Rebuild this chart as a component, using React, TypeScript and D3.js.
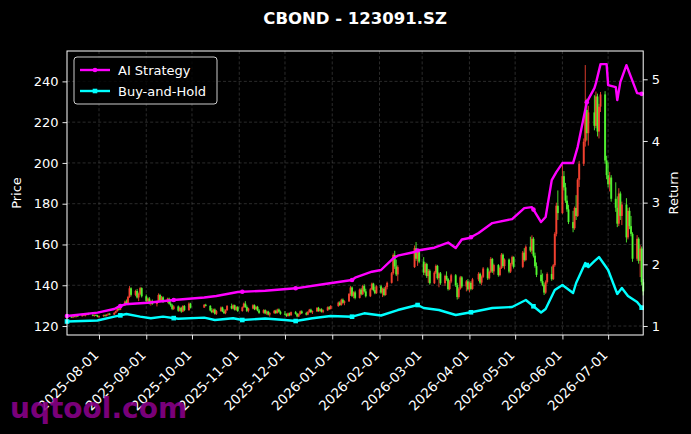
import { useEffect, useRef } from 'react';
import * as d3 from 'd3';

// [day of month, open, high, low, close]
type Candle = [number, number, number, number, number];

const jul2025: Candle[] = [
  [11, 124.0, 124.8, 123.6, 124.5], [14, 124.5, 125.0, 124.1, 124.3], [15, 124.3, 124.9, 123.9, 124.7],
  [16, 124.7, 125.3, 124.4, 124.6], [17, 124.6, 125.2, 124.2, 125.0], [18, 125.0, 125.6, 124.6, 124.8],
  [21, 124.8, 125.9, 124.6, 125.6], [22, 125.6, 126.0, 125.0, 125.2], [23, 125.2, 125.8, 124.7, 125.5],
  [24, 125.5, 126.4, 125.2, 126.1], [25, 126.1, 126.5, 125.3, 125.5], [28, 125.5, 125.9, 124.8, 125.0],
  [29, 125.0, 125.7, 124.6, 125.4], [30, 125.4, 125.8, 124.9, 125.1], [31, 125.1, 125.5, 124.3, 124.6],
];
const aug2025: Candle[] = [
  [1, 124.6, 125.2, 124.0, 124.9], [4, 124.9, 125.6, 124.5, 125.3], [5, 125.3, 125.7, 124.6, 124.9],
  [6, 124.9, 125.8, 124.7, 125.6], [7, 125.6, 126.3, 125.2, 126.0], [8, 126.0, 126.4, 125.3, 125.6],
  [11, 125.6, 126.8, 125.4, 126.5], [12, 126.5, 127.6, 126.2, 127.3], [13, 127.3, 128.9, 127.0, 128.5],
  [14, 128.5, 129.4, 127.6, 128.0], [15, 128.0, 130.6, 127.8, 130.2], [18, 130.2, 132.5, 129.8, 132.0],
  [19, 132.0, 133.0, 130.4, 130.9], [20, 130.9, 134.8, 130.5, 134.2], [21, 134.2, 139.6, 133.8, 138.5],
  [22, 138.5, 139.0, 134.5, 135.3], [25, 135.3, 137.8, 134.6, 137.2], [26, 137.2, 138.2, 133.5, 134.0],
  [27, 134.0, 136.4, 132.2, 135.8], [28, 135.8, 139.2, 135.2, 138.6], [29, 138.6, 139.0, 134.0, 134.6],
];
const sep2025: Candle[] = [
  [1, 134.6, 135.5, 131.5, 132.2], [2, 132.2, 134.0, 131.0, 133.5], [3, 133.5, 134.2, 130.6, 131.0],
  [4, 131.0, 132.8, 130.0, 132.3], [5, 132.3, 133.0, 130.4, 130.8], [8, 130.8, 132.4, 129.6, 131.9],
  [9, 131.9, 136.0, 131.5, 135.2], [10, 135.2, 135.8, 132.0, 132.6], [11, 132.6, 134.8, 132.0, 134.1],
  [12, 134.1, 134.6, 131.3, 131.8], [15, 131.8, 133.9, 131.2, 133.4], [16, 133.4, 133.9, 130.6, 131.0],
  [17, 131.0, 132.6, 129.5, 130.2], [18, 130.2, 130.9, 127.8, 128.4], [19, 128.4, 130.2, 127.9, 129.6],
  [22, 129.6, 130.1, 127.0, 127.5], [23, 127.5, 129.5, 127.1, 128.9], [24, 128.9, 129.4, 126.5, 127.1],
  [25, 127.1, 130.2, 126.8, 129.8], [26, 129.8, 130.3, 127.3, 127.8], [29, 127.8, 131.6, 127.5, 131.0],
  [30, 131.0, 131.4, 128.6, 129.0],
];
const oct2025: Candle[] = [
  [9, 129.0, 130.8, 129.0, 130.4], [10, 130.4, 130.9, 129.6, 129.9], [13, 129.9, 130.2, 127.2, 127.6],
  [14, 127.6, 128.8, 126.3, 126.8], [15, 126.8, 128.5, 126.4, 128.1], [16, 128.1, 128.6, 125.6, 126.0],
  [17, 126.0, 127.9, 125.4, 127.3], [20, 127.3, 129.6, 127.0, 129.1], [21, 129.1, 129.5, 126.8, 127.2],
  [22, 127.2, 128.3, 125.9, 126.3], [23, 126.3, 128.2, 125.8, 127.8], [24, 127.8, 130.3, 127.4, 129.8],
  [27, 129.8, 131.0, 128.2, 128.6], [28, 128.6, 130.6, 128.2, 130.2], [29, 130.2, 130.5, 127.6, 128.0],
  [30, 128.0, 129.7, 127.5, 129.3], [31, 129.3, 129.8, 126.9, 127.4],
];
const nov2025: Candle[] = [
  [3, 127.4, 129.6, 127.0, 129.2], [4, 129.2, 131.5, 128.8, 131.0], [5, 131.0, 132.2, 128.9, 129.3],
  [6, 129.3, 130.1, 126.9, 127.5], [7, 127.5, 129.0, 126.7, 128.6], [10, 128.6, 130.7, 128.2, 130.2],
  [11, 130.2, 130.6, 127.8, 128.3], [12, 128.3, 129.8, 127.8, 129.4], [13, 129.4, 129.9, 127.2, 127.6],
  [14, 127.6, 128.3, 126.0, 126.5], [17, 126.5, 128.2, 126.1, 127.8], [18, 127.8, 128.2, 125.8, 126.2],
  [19, 126.2, 127.6, 125.5, 127.1], [20, 127.1, 127.5, 125.2, 125.6], [21, 125.6, 126.8, 124.6, 126.3],
  [24, 126.3, 127.9, 126.0, 127.5], [25, 127.5, 128.0, 125.9, 126.4], [26, 126.4, 128.5, 126.1, 128.1],
  [27, 128.1, 128.6, 126.6, 127.0], [28, 127.0, 127.6, 125.5, 126.0],
];
const dec2025: Candle[] = [
  [1, 126.0, 127.3, 125.2, 125.6], [2, 125.6, 126.2, 124.5, 124.9], [3, 124.9, 126.6, 124.6, 126.2],
  [4, 126.2, 126.6, 124.8, 125.3], [5, 125.3, 127.1, 125.0, 126.8], [8, 126.8, 127.4, 125.6, 126.0],
  [9, 126.0, 126.4, 124.3, 124.7], [10, 124.7, 126.2, 124.4, 125.8], [11, 125.8, 127.6, 125.5, 127.2],
  [12, 127.2, 127.7, 125.9, 126.3], [15, 126.3, 127.0, 125.2, 125.6], [16, 125.6, 127.3, 125.3, 126.9],
  [17, 126.9, 128.4, 126.5, 128.0], [18, 128.0, 128.5, 126.4, 126.8], [19, 126.8, 127.6, 125.9, 127.2],
  [22, 127.2, 129.3, 126.9, 128.9], [23, 128.9, 129.4, 127.0, 127.4], [24, 127.4, 128.6, 126.8, 128.2],
  [25, 128.2, 128.7, 126.6, 127.0], [26, 127.0, 128.1, 126.3, 127.7], [29, 127.7, 129.6, 127.4, 129.2],
  [30, 129.2, 129.8, 127.9, 128.4], [31, 128.4, 130.3, 128.1, 129.8],
];
const jan2026: Candle[] = [
  [5, 129.8, 132.0, 129.4, 131.5], [6, 131.5, 132.2, 129.8, 130.3], [7, 130.3, 133.4, 130.0, 132.9],
  [8, 132.9, 133.5, 130.9, 131.4], [9, 131.4, 132.6, 130.2, 132.1], [12, 132.1, 136.2, 131.8, 135.7],
  [13, 135.7, 139.6, 134.8, 138.9], [14, 138.9, 139.4, 134.2, 134.8], [15, 134.8, 137.0, 133.6, 136.5],
  [16, 136.5, 137.3, 133.1, 133.8], [19, 133.8, 138.4, 133.5, 137.9], [20, 137.9, 138.6, 135.0, 135.6],
  [21, 135.6, 140.2, 135.2, 139.6], [22, 139.6, 140.5, 136.4, 137.0], [23, 137.0, 138.3, 134.0, 134.6],
  [26, 134.6, 138.6, 134.2, 138.0], [27, 138.0, 141.3, 137.6, 140.8], [28, 140.8, 141.2, 137.0, 137.6],
  [29, 137.6, 139.4, 135.6, 136.1], [30, 136.1, 140.0, 135.8, 139.5],
];
const feb2026: Candle[] = [
  [2, 139.5, 140.2, 135.8, 136.4], [3, 136.4, 138.8, 134.2, 138.3], [4, 138.3, 139.0, 134.6, 135.2],
  [5, 135.2, 139.6, 134.9, 139.1], [6, 139.1, 141.8, 138.0, 141.2], [9, 141.2, 146.5, 140.8, 145.9],
  [10, 145.9, 155.6, 145.2, 154.8], [11, 154.8, 156.9, 148.0, 149.2], [12, 149.2, 152.6, 144.5, 145.3],
  [13, 145.3, 149.8, 142.0, 148.9], [24, 148.9, 159.5, 148.5, 158.2], [25, 158.2, 161.2, 152.0, 153.0],
  [26, 153.0, 157.4, 149.5, 156.5], [27, 156.5, 157.2, 150.8, 151.6],
];
const mar2026: Candle[] = [
  [2, 151.6, 153.8, 145.0, 146.2], [3, 146.2, 151.2, 144.8, 150.4], [4, 150.4, 151.0, 143.6, 144.5],
  [5, 144.5, 148.0, 141.2, 147.1], [6, 147.1, 147.8, 140.3, 141.0], [9, 141.0, 146.9, 140.6, 146.2],
  [10, 146.2, 150.2, 145.5, 149.5], [11, 149.5, 150.0, 142.8, 143.5], [12, 143.5, 146.4, 139.0, 145.8],
  [13, 145.8, 146.5, 140.2, 141.0], [16, 141.0, 145.2, 139.6, 144.6], [17, 144.6, 146.8, 142.2, 143.0],
  [18, 143.0, 143.6, 137.4, 138.1], [19, 138.1, 142.5, 137.6, 141.8], [20, 141.8, 145.6, 141.0, 144.9],
  [23, 144.9, 145.5, 139.2, 140.0], [24, 140.0, 141.2, 133.0, 134.2], [25, 134.2, 139.0, 133.4, 138.3],
  [26, 138.3, 144.6, 137.8, 143.9], [27, 143.9, 144.5, 138.6, 139.4], [30, 139.4, 142.6, 137.0, 141.9],
  [31, 141.9, 143.0, 137.4, 138.0],
];
const apr2026: Candle[] = [
  [1, 138.0, 141.8, 136.6, 141.2], [2, 141.2, 142.0, 137.5, 138.2], [3, 138.2, 143.6, 137.8, 142.9],
  [7, 142.9, 146.4, 142.0, 145.6], [8, 145.6, 146.2, 140.6, 141.3], [9, 141.3, 144.8, 140.0, 144.1],
  [10, 144.1, 148.9, 143.5, 148.2], [13, 148.2, 148.8, 142.6, 143.4], [14, 143.4, 147.2, 142.8, 146.6],
  [15, 146.6, 153.8, 146.0, 152.9], [16, 152.9, 153.4, 146.0, 146.8], [17, 146.8, 150.6, 145.2, 149.9],
  [20, 149.9, 150.4, 144.2, 145.0], [21, 145.0, 149.2, 144.4, 148.5], [22, 148.5, 155.8, 148.0, 155.0],
  [23, 155.0, 155.6, 148.6, 149.4], [24, 149.4, 153.2, 147.8, 152.6], [27, 152.6, 153.1, 145.9, 146.7],
  [28, 146.7, 151.0, 146.0, 150.3], [29, 150.3, 154.5, 149.6, 153.8], [30, 153.8, 154.2, 148.2, 149.0],
];
const may2026: Candle[] = [
  [6, 149.0, 156.8, 148.4, 156.0], [7, 156.0, 158.2, 151.6, 152.4], [8, 152.4, 159.6, 151.8, 158.9],
  [11, 158.9, 163.8, 156.2, 157.0], [12, 157.0, 164.5, 155.4, 162.8], [13, 162.8, 163.6, 153.6, 154.5],
  [14, 154.5, 156.0, 148.6, 149.4], [15, 149.4, 151.2, 144.0, 145.1], [18, 145.1, 147.6, 141.2, 142.0],
  [19, 142.0, 145.8, 139.5, 140.2], [20, 140.2, 141.0, 135.2, 136.4], [21, 136.4, 142.4, 135.8, 141.6],
  [22, 141.6, 146.3, 140.8, 145.5], [25, 145.5, 149.2, 142.2, 143.0], [26, 143.0, 150.4, 142.6, 149.8],
  [27, 149.8, 166.0, 149.0, 165.2], [28, 165.2, 180.5, 164.0, 179.0], [29, 179.0, 186.5, 172.0, 175.4],
];
const jun2026: Candle[] = [
  [1, 175.4, 199.0, 175.0, 193.5], [2, 193.5, 196.0, 186.5, 188.0], [3, 188.0, 190.2, 180.4, 181.5],
  [4, 181.5, 184.0, 176.0, 177.2], [5, 177.2, 179.5, 170.0, 171.0], [8, 171.0, 176.5, 166.0, 168.0],
  [9, 168.0, 178.6, 167.2, 177.9], [10, 177.9, 184.2, 172.0, 174.0], [11, 174.0, 192.5, 173.5, 191.8],
  [12, 191.8, 201.0, 188.2, 199.6], [15, 199.6, 212.0, 198.5, 210.4], [16, 210.4, 248.0, 208.0, 226.0],
  [17, 226.0, 231.5, 211.0, 214.6], [18, 214.6, 228.0, 208.5, 224.8], [22, 224.8, 233.2, 216.0, 218.2],
  [23, 218.2, 235.0, 217.0, 232.6], [24, 232.6, 234.0, 213.0, 215.4], [25, 215.4, 229.0, 212.0, 227.6],
  [26, 227.6, 234.8, 225.0, 233.6], [29, 233.6, 235.2, 199.6, 201.2], [30, 201.2, 203.5, 192.0, 194.0],
];
const jul2026: Candle[] = [
  [1, 194.0, 200.2, 188.0, 189.5], [2, 189.5, 195.6, 186.0, 192.8], [3, 192.8, 194.0, 181.0, 182.4],
  [6, 182.4, 190.5, 176.0, 178.0], [7, 178.0, 183.6, 168.5, 170.2], [8, 170.2, 187.6, 169.0, 185.0],
  [9, 185.0, 186.0, 172.0, 174.0], [10, 174.0, 181.0, 169.5, 179.6], [13, 179.6, 182.7, 161.0, 163.5],
  [14, 163.5, 178.0, 162.5, 176.5], [15, 176.5, 178.2, 167.5, 169.0], [16, 169.0, 174.0, 164.0, 165.2],
  [17, 165.2, 166.0, 151.5, 153.0], [20, 153.0, 164.6, 152.0, 162.8], [21, 162.8, 163.5, 150.6, 152.0],
  [22, 152.0, 159.7, 144.0, 158.0], [23, 158.0, 159.0, 140.0, 141.5], [24, 141.5, 143.0, 135.0, 137.0],
];

const candleMonths: [string, Candle[]][] = [
  ['2025-07', jul2025], ['2025-08', aug2025], ['2025-09', sep2025], ['2025-10', oct2025],
  ['2025-11', nov2025], ['2025-12', dec2025], ['2026-01', jan2026], ['2026-02', feb2026],
  ['2026-03', mar2026], ['2026-04', apr2026], ['2026-05', may2026], ['2026-06', jun2026],
  ['2026-07', jul2026],
];

const aiDates = [
  '2025-07-11', '2025-07-31', '2025-08-11', '2025-08-14', '2025-08-18', '2025-09-02', '2025-09-19',
  '2025-10-09', '2025-10-17', '2025-10-31', '2025-11-18', '2025-12-08', '2025-12-26', '2026-01-14',
  '2026-01-16', '2026-01-27', '2026-02-02', '2026-02-10', '2026-02-13', '2026-02-24', '2026-02-26',
  '2026-03-09', '2026-03-18', '2026-03-23', '2026-03-27', '2026-04-01', '2026-04-07', '2026-04-16',
  '2026-04-29', '2026-05-07', '2026-05-12', '2026-05-18', '2026-05-21', '2026-05-25', '2026-05-28',
  '2026-06-01', '2026-06-08', '2026-06-11', '2026-06-17', '2026-06-22', '2026-06-23', '2026-06-26',
  '2026-06-30', '2026-07-01', '2026-07-06', '2026-07-07', '2026-07-09', '2026-07-13', '2026-07-16',
  '2026-07-20', '2026-07-24',
];
const aiValues = [
  1.162, 1.216, 1.276, 1.313, 1.352, 1.378, 1.421,
  1.462, 1.486, 1.551, 1.572, 1.611, 1.676, 1.746,
  1.783, 1.880, 1.908, 2.097, 2.140, 2.200, 2.224,
  2.269, 2.353, 2.264, 2.402, 2.426, 2.507, 2.669,
  2.734, 2.912, 2.928, 2.686, 2.767, 3.366, 3.496,
  3.642, 3.642, 3.901, 4.630, 4.857, 4.938, 5.246,
  5.246, 4.906, 4.874, 4.663, 4.955, 5.230, 5.036,
  4.776, 4.760,
];

const bhDates = [
  '2025-07-11', '2025-07-31', '2025-08-11', '2025-08-19', '2025-08-28', '2025-09-04', '2025-09-12',
  '2025-09-22', '2025-10-09', '2025-10-16', '2025-10-28', '2025-11-03', '2025-11-18', '2025-12-01',
  '2025-12-08', '2025-12-19', '2025-12-31', '2026-01-14', '2026-01-22', '2026-02-02', '2026-02-13',
  '2026-02-26', '2026-03-02', '2026-03-12', '2026-03-23', '2026-04-03', '2026-04-16', '2026-04-29',
  '2026-05-08', '2026-05-12', '2026-05-18', '2026-05-21', '2026-05-27', '2026-06-01', '2026-06-08',
  '2026-06-10', '2026-06-16', '2026-06-18', '2026-06-22', '2026-06-25', '2026-07-01', '2026-07-07',
  '2026-07-10', '2026-07-14', '2026-07-20', '2026-07-24',
];
const bhValues = [
  1.073, 1.089, 1.151, 1.194, 1.151, 1.125, 1.151,
  1.118, 1.135, 1.097, 1.125, 1.097, 1.122, 1.097,
  1.081, 1.125, 1.162, 1.151, 1.206, 1.170, 1.259,
  1.340, 1.292, 1.259, 1.178, 1.227, 1.292, 1.308,
  1.421, 1.340, 1.219, 1.276, 1.583, 1.665, 1.535,
  1.697, 2.021, 1.956, 2.053, 2.118, 1.908, 1.519,
  1.616, 1.486, 1.389, 1.267,
];

const priceTicks = [120, 140, 160, 180, 200, 220, 240];
const returnTicks = [1, 2, 3, 4, 5];
const monthTicks = [
  '2025-08-01', '2025-09-01', '2025-10-01', '2025-11-01', '2025-12-01', '2026-01-01',
  '2026-02-01', '2026-03-01', '2026-04-01', '2026-05-01', '2026-06-01', '2026-07-01',
];
const seriesNames = ['AI Strategy', 'Buy-and-Hold'];
const seriesColors = ['#ff00ff', '#00ffff'];

export default function App() {
  const svgRef = useRef<SVGSVGElement>(null);

  useEffect(() => {
    if (!svgRef.current) return;
    const W = 691;
    const H = 434;
    const plot = { left: 67, right: 643.2, top: 51, bottom: 335 };
    const font = 'DejaVu Sans, sans-serif';
    const fs = 13;

    const svg = d3.select(svgRef.current);
    svg.selectAll('*').remove();
    svg.attr('width', W).attr('height', H).attr('viewBox', `0 0 ${W} ${H}`);
    svg.append('rect').attr('width', W).attr('height', H).attr('fill', '#000');

    const parse = d3.utcParse('%Y-%m-%d');
    const candles = candleMonths.flatMap(([ym, rows]) =>
      rows.map(([d, o, h, l, c]) => ({ date: parse(`${ym}-${String(d).padStart(2, '0')}`)!, o, h, l, c }))
    );

    const x = d3.scaleUtc().domain([parse('2025-07-11')!, parse('2026-07-24')!]).range([plot.left, plot.right]);
    const yP = d3.scaleLinear().domain([115.6, 254.9]).range([plot.bottom, plot.top]);
    const yR = d3.scaleLinear().domain([0.854, 5.459]).range([plot.bottom, plot.top]);

    // grid
    const grid = svg.append('g').attr('stroke', '#8a8a8a').attr('stroke-opacity', 0.45)
      .attr('stroke-width', 0.7).attr('stroke-dasharray', '3,2.2');
    grid.selectAll('.vg').data(monthTicks).join('line')
      .attr('x1', (d) => x(parse(d)!)).attr('x2', (d) => x(parse(d)!))
      .attr('y1', plot.top).attr('y2', plot.bottom);
    grid.selectAll('.hg').data(priceTicks).join('line')
      .attr('x1', plot.left).attr('x2', plot.right)
      .attr('y1', (d) => yP(d)).attr('y2', (d) => yP(d));

    // candles (red up, green down)
    const cg = svg.append('g');
    const cc = (d: { o: number; c: number }) => (d.c >= d.o ? '#ff4433' : '#55ff33');
    cg.selectAll('line').data(candles).join('line')
      .attr('x1', (d) => x(d.date)).attr('x2', (d) => x(d.date))
      .attr('y1', (d) => yP(d.h)).attr('y2', (d) => yP(d.l))
      .attr('stroke', cc).attr('stroke-width', 1).attr('stroke-opacity', 0.85);
    cg.selectAll('rect').data(candles).join('rect')
      .attr('x', (d) => x(d.date) - 1).attr('width', 2)
      .attr('y', (d) => yP(Math.max(d.o, d.c)))
      .attr('height', (d) => Math.max(0.8, Math.abs(yP(d.o) - yP(d.c))))
      .attr('fill', cc).attr('fill-opacity', 0.85);

    // return lines
    const series = [
      { dates: aiDates.map((d) => parse(d)!), values: aiValues },
      { dates: bhDates.map((d) => parse(d)!), values: bhValues },
    ];
    const line = d3.line<[Date, number]>().x((d) => x(d[0])).y((d) => yR(d[1]));
    series.forEach((s, i) => {
      const pts = s.dates.map((d, j) => [d, s.values[j]] as [Date, number]);
      svg.append('path').datum(pts).attr('d', line).attr('fill', 'none')
        .attr('stroke', seriesColors[i]).attr('stroke-width', 2.4).attr('stroke-linejoin', 'round');
      // markers every 25 trading days
      const marks = candles.filter((_, k) => k % 25 === 0).map((c) => c.date);
      const interp = (t: Date) => {
        const k = Math.min(Math.max(d3.bisectLeft(s.dates, t), 1), s.dates.length - 1);
        const t0 = +s.dates[k - 1];
        const t1 = +s.dates[k];
        const f = Math.max(0, Math.min(1, (+t - t0) / (t1 - t0)));
        return s.values[k - 1] + f * (s.values[k] - s.values[k - 1]);
      };
      const mg = svg.append('g').attr('fill', seriesColors[i]);
      marks.forEach((t) => {
        const mx = x(t);
        const my = yR(interp(t));
        if (i === 0) mg.append('circle').attr('cx', mx).attr('cy', my).attr('r', 2.3);
        else mg.append('rect').attr('x', mx - 2.3).attr('y', my - 2.3).attr('width', 4.6).attr('height', 4.6);
      });
    });

    // frame
    svg.append('rect').attr('x', plot.left).attr('y', plot.top)
      .attr('width', plot.right - plot.left).attr('height', plot.bottom - plot.top)
      .attr('fill', 'none').attr('stroke', '#fff').attr('stroke-width', 1);

    const styleAxis = (g: d3.Selection<SVGGElement, unknown, null, undefined>) => {
      g.select('.domain').remove();
      g.selectAll('.tick line').attr('stroke', '#fff').attr('stroke-width', 0.9);
      g.selectAll('.tick text').attr('fill', '#fff').attr('font-size', fs).attr('font-family', font);
    };

    svg.append('g').attr('transform', `translate(${plot.left},0)`)
      .call(d3.axisLeft(yP).tickValues(priceTicks).tickSize(4.5).tickPadding(4))
      .call(styleAxis);
    svg.append('g').attr('transform', `translate(${plot.right},0)`)
      .call(d3.axisRight(yR).tickValues(returnTicks).tickFormat(d3.format('d')).tickSize(4.5).tickPadding(4))
      .call(styleAxis);
    const xa = svg.append('g').attr('transform', `translate(0,${plot.bottom})`)
      .call(d3.axisBottom(x).tickValues(monthTicks.map((d) => parse(d)!))
        .tickFormat((d) => d3.utcFormat('%Y-%m-%d')(d as Date)).tickSize(4.5))
      .call(styleAxis);
    xa.selectAll('.tick text')
      .attr('y', 0).attr('dy', 0).attr('text-anchor', 'end').attr('font-size', 13.5)
      .attr('transform', 'translate(0,21) rotate(-45)');

    // axis labels
    svg.append('text').attr('transform', `translate(21,${(plot.top + plot.bottom) / 2}) rotate(-90)`)
      .attr('text-anchor', 'middle').attr('fill', '#fff').attr('font-size', fs).attr('font-family', font)
      .text('Price');
    svg.append('text').attr('transform', `translate(678,${(plot.top + plot.bottom) / 2}) rotate(-90)`)
      .attr('text-anchor', 'middle').attr('fill', '#fff').attr('font-size', fs).attr('font-family', font)
      .text('Return');

    // title
    svg.append('text').attr('x', (plot.left + plot.right) / 2).attr('y', 24)
      .attr('text-anchor', 'middle').attr('fill', '#fff').attr('font-size', 16.5).attr('font-weight', 'bold')
      .attr('font-family', font).text('CBOND - 123091.SZ');

    // legend
    const lg = svg.append('g').attr('transform', 'translate(74,57)');
    lg.append('rect').attr('width', 143).attr('height', 47).attr('rx', 3)
      .attr('fill', '#000').attr('fill-opacity', 0.8).attr('stroke', '#cccccc').attr('stroke-width', 1);
    seriesNames.forEach((name, i) => {
      const cy = 13 + i * 21;
      lg.append('line').attr('x1', 6).attr('x2', 36).attr('y1', cy).attr('y2', cy)
        .attr('stroke', seriesColors[i]).attr('stroke-width', 2.4);
      if (i === 0) lg.append('circle').attr('cx', 21).attr('cy', cy).attr('r', 2.3).attr('fill', seriesColors[i]);
      else lg.append('rect').attr('x', 18.7).attr('y', cy - 2.3).attr('width', 4.6).attr('height', 4.6).attr('fill', seriesColors[i]);
      lg.append('text').attr('x', 44).attr('y', cy).attr('dy', '0.36em').attr('fill', '#fff')
        .attr('font-size', fs).attr('font-family', font).text(name);
    });

    // watermark
    svg.append('text').attr('x', 10).attr('y', 418).attr('fill', '#8b008b').attr('fill-opacity', 0.9)
      .attr('font-size', 28).attr('font-weight', 'bold').attr('font-family', font).text('uqtool.com');
  }, []);

  return <svg ref={svgRef} style={{ position: 'fixed', left: 0, top: 0, display: 'block', background: '#000' }} />;
}
